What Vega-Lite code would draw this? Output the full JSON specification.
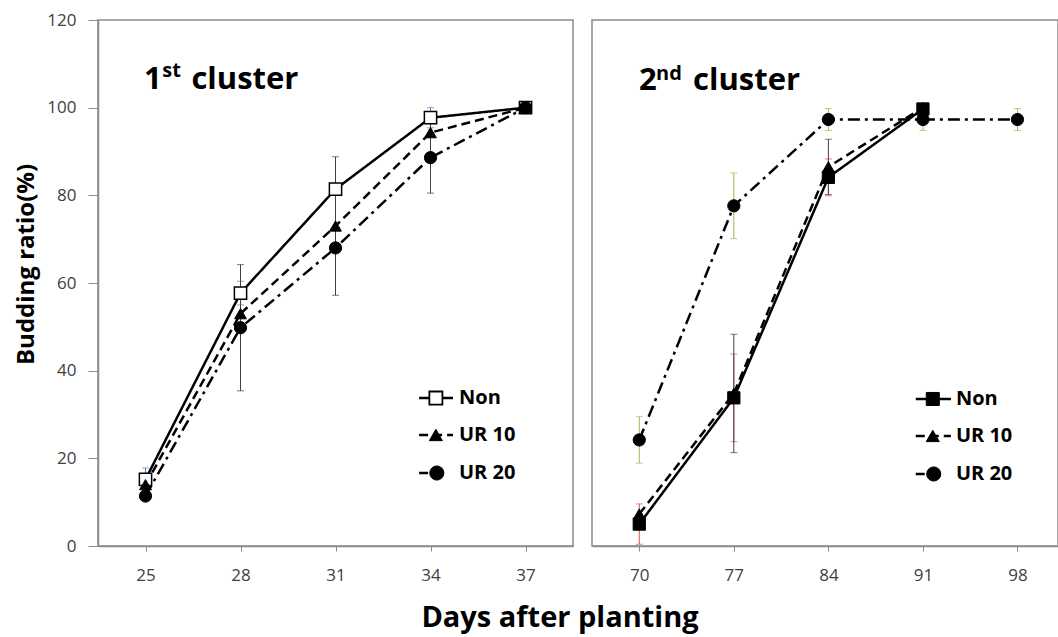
{
  "$schema": "https://vega.github.io/schema/vega-lite/v6.json",
  "padding": {"left": 13, "top": 10, "right": 0, "bottom": 6},
  "background": "white",
  "config": {
    "view": {"stroke": "#8a8a8a", "strokeWidth": 1.5},
    "font": "Open Sans",
    "axis": {"grid": false, "domainColor": "#8a8a8a", "tickColor": "#8a8a8a", "domainWidth": 1.5, "labelFont": "Open Sans", "labelFontSize": 17, "labelColor": "#404040"}
  },
  "title": {"text": "Days after planting", "orient": "bottom", "anchor": "middle", "font": "Open Sans", "fontSize": 29, "fontWeight": "bold", "color": "black", "offset": 20, "dx": 24},
  "datasets": {
    "c1": [
      {"day": 25, "series": "Non", "v": 15.2, "err": 2.6},
      {"day": 28, "series": "Non", "v": 57.7, "err": 2.7},
      {"day": 31, "series": "Non", "v": 81.4, "err": null},
      {"day": 34, "series": "Non", "v": 97.7, "err": 2.3},
      {"day": 37, "series": "Non", "v": 100, "err": null},
      {"day": 25, "series": "UR 10", "v": 14.0, "err": null},
      {"day": 28, "series": "UR 10", "v": 53.0, "err": null},
      {"day": 31, "series": "UR 10", "v": 73.0, "err": 15.8},
      {"day": 34, "series": "UR 10", "v": 94.3, "err": null},
      {"day": 37, "series": "UR 10", "v": 100, "err": null},
      {"day": 25, "series": "UR 20", "v": 11.4, "err": null},
      {"day": 28, "series": "UR 20", "v": 49.8, "err": 14.4},
      {"day": 31, "series": "UR 20", "v": 68.0, "err": null},
      {"day": 34, "series": "UR 20", "v": 88.6, "err": 8.1},
      {"day": 37, "series": "UR 20", "v": 100, "err": null}
    ],
    "c2": [
      {"day": 70, "series": "Non", "v": 5.0, "err": 4.6},
      {"day": 77, "series": "Non", "v": 33.8, "err": 10.0},
      {"day": 84, "series": "Non", "v": 84.1, "err": 4.2},
      {"day": 91, "series": "Non", "v": 99.7, "err": null},
      {"day": 70, "series": "UR 10", "v": 7.3, "err": null},
      {"day": 77, "series": "UR 10", "v": 34.8, "err": 13.5},
      {"day": 84, "series": "UR 10", "v": 86.5, "err": 6.3},
      {"day": 91, "series": "UR 10", "v": 100, "err": null},
      {"day": 70, "series": "UR 20", "v": 24.2, "err": 5.3},
      {"day": 77, "series": "UR 20", "v": 77.6, "err": 7.5},
      {"day": 84, "series": "UR 20", "v": 97.3, "err": 2.5},
      {"day": 91, "series": "UR 20", "v": 97.3, "err": 2.5},
      {"day": 98, "series": "UR 20", "v": 97.3, "err": 2.5}
    ]
  },
  "spacing": 17,
  "resolve": {"scale": {"color": "independent", "strokeDash": "independent"}},
  "hconcat": [
    {
      "width": 475,
      "height": 526,
      "data": {"name": "c1"},
      "encoding": {
        "x": {"field": "day", "type": "quantitative", "scale": {"domain": [23.5, 38.5], "nice": false, "zero": false}, "axis": {"values": [25, 28, 31, 34, 37], "title": null, "tickSize": 5, "labelPadding": 16}},
        "y": {"field": "v", "type": "quantitative", "scale": {"domain": [0, 120], "nice": false}, "axis": {"values": [0, 20, 40, 60, 80, 100, 120], "title": "Budding ratio(%)", "titleFont": "Open Sans", "titleFontSize": 24, "titleFontWeight": "bold", "titleColor": "black", "titleX": -72, "titleY": 244, "titleAngle": 270, "titleAlign": "center", "titleBaseline": "middle", "tickSize": 10, "labelPadding": 12}}
      },
      "layer": [
        {
          "transform": [{"filter": "datum.err > 0"}],
          "mark": {"type": "errorbar", "ticks": {"size": 7, "thickness": 1}, "thickness": 1},
          "encoding": {
            "yError": {"field": "err"},
            "color": {"field": "series", "type": "nominal", "scale": {"domain": ["Non", "UR 10", "UR 20"], "range": ["#4f81bd", "#404040", "#404040"]}, "legend": null}
          }
        },
        {
          "mark": {"type": "line", "color": "black", "strokeWidth": 2.5},
          "encoding": {
            "strokeDash": {"field": "series", "type": "nominal", "scale": {"domain": ["Non", "UR 10", "UR 20"], "range": [[1, 0], [9, 5], [12, 5, 3, 5]]}, "legend": null}
          }
        },
        {
          "transform": [{"filter": "datum.series === 'Non'"}],
          "mark": {"type": "point", "shape": "square", "filled": true, "fill": "white", "stroke": "black", "strokeWidth": 1.5, "size": 150, "opacity": 1}
        },
        {
          "transform": [{"filter": "datum.series === 'UR 10'"}],
          "mark": {"type": "point", "shape": "triangle-up", "filled": true, "fill": "black", "stroke": "black", "strokeWidth": 1, "size": 140, "opacity": 1}
        },
        {
          "transform": [{"filter": "datum.series === 'UR 20'"}],
          "mark": {"type": "point", "shape": "circle", "filled": true, "fill": "black", "stroke": "black", "strokeWidth": 1, "size": 150, "opacity": 1}
        },
        {
          "transform": [{"filter": "datum.day === 37 && datum.series === 'Non'"}],
          "mark": {"type": "rule", "color": "black", "strokeWidth": 2.5},
          "encoding": {"x": {"datum": 33.64}, "x2": {"datum": 34.71}, "y": {"datum": 33.76}}
        },
        {
          "transform": [{"filter": "datum.day === 37 && datum.series === 'Non'"}],
          "mark": {"type": "rule", "color": "black", "strokeWidth": 2.5, "strokeDash": [9, 5]},
          "encoding": {"x": {"datum": 33.64}, "x2": {"datum": 34.71}, "y": {"datum": 25.32}}
        },
        {
          "transform": [{"filter": "datum.day === 37 && datum.series === 'Non'"}],
          "mark": {"type": "rule", "color": "black", "strokeWidth": 2.5, "strokeDash": [9, 5]},
          "encoding": {"x": {"datum": 33.64}, "x2": {"datum": 34.4}, "y": {"datum": 16.65}}
        },
        {
          "transform": [{"filter": "datum.day === 37 && datum.series === 'Non'"}],
          "mark": {"type": "point", "shape": "square", "filled": true, "fill": "white", "stroke": "black", "strokeWidth": 1.8, "size": 170, "opacity": 1},
          "encoding": {"x": {"datum": 34.17}, "y": {"datum": 33.76}}
        },
        {
          "transform": [{"filter": "datum.day === 37 && datum.series === 'Non'"}],
          "mark": {"type": "point", "shape": "triangle-up", "filled": true, "fill": "black", "stroke": "black", "strokeWidth": 1, "size": 170, "opacity": 1},
          "encoding": {"x": {"datum": 34.17}, "y": {"datum": 25.32}}
        },
        {
          "transform": [{"filter": "datum.day === 37 && datum.series === 'Non'"}],
          "mark": {"type": "point", "shape": "circle", "filled": true, "fill": "black", "stroke": "black", "strokeWidth": 1, "size": 200, "opacity": 1},
          "encoding": {"x": {"datum": 34.2}, "y": {"datum": 16.65}}
        },
        {
          "transform": [{"filter": "datum.day === 37 && datum.series === 'Non'"}],
          "mark": {"type": "text", "text": "Non", "font": "Open Sans", "fontSize": 20, "fontWeight": "bold", "align": "left", "baseline": "middle", "color": "black"},
          "encoding": {"x": {"datum": 34.9}, "y": {"datum": 33.76}}
        },
        {
          "transform": [{"filter": "datum.day === 37 && datum.series === 'Non'"}],
          "mark": {"type": "text", "text": "UR 10", "font": "Open Sans", "fontSize": 20, "fontWeight": "bold", "align": "left", "baseline": "middle", "color": "black"},
          "encoding": {"x": {"datum": 34.9}, "y": {"datum": 25.32}}
        },
        {
          "transform": [{"filter": "datum.day === 37 && datum.series === 'Non'"}],
          "mark": {"type": "text", "text": "UR 20", "font": "Open Sans", "fontSize": 20, "fontWeight": "bold", "align": "left", "baseline": "middle", "color": "black"},
          "encoding": {"x": {"datum": 34.9}, "y": {"datum": 16.65}}
        },
        {
          "transform": [{"filter": "datum.day === 37 && datum.series === 'Non'"}],
          "mark": {"type": "text", "text": "1", "font": "Open Sans", "fontSize": 31, "fontWeight": "bold", "align": "left", "baseline": "alphabetic", "color": "black"},
          "encoding": {"x": {"datum": 24.95}, "y": {"datum": 104.3}}
        },
        {
          "transform": [{"filter": "datum.day === 37 && datum.series === 'Non'"}],
          "mark": {"type": "text", "text": "st", "font": "Open Sans", "fontSize": 20, "fontWeight": "bold", "align": "left", "baseline": "alphabetic", "color": "black"},
          "encoding": {"x": {"datum": 25.53}, "y": {"datum": 106.9}}
        },
        {
          "transform": [{"filter": "datum.day === 37 && datum.series === 'Non'"}],
          "mark": {"type": "text", "text": "cluster", "font": "Open Sans", "fontSize": 31, "fontWeight": "bold", "align": "left", "baseline": "alphabetic", "color": "black"},
          "encoding": {"x": {"datum": 26.45}, "y": {"datum": 104.3}}
        }
      ]
    },
    {
      "width": 466,
      "height": 526,
      "data": {"name": "c2"},
      "encoding": {
        "x": {"field": "day", "type": "quantitative", "scale": {"domain": [66.5, 101], "nice": false, "zero": false}, "axis": {"values": [70, 77, 84, 91, 98], "title": null, "tickSize": 5, "labelPadding": 16}},
        "y": {"field": "v", "type": "quantitative", "scale": {"domain": [0, 120], "nice": false}, "axis": null}
      },
      "layer": [
        {
          "transform": [{"filter": "datum.err > 0"}],
          "mark": {"type": "errorbar", "ticks": {"size": 7, "thickness": 1}, "thickness": 1},
          "encoding": {
            "yError": {"field": "err"},
            "color": {"field": "series", "type": "nominal", "scale": {"domain": ["Non", "UR 10", "UR 20"], "range": ["#e05050", "#404040", "#9bbb59"]}, "legend": null}
          }
        },
        {
          "mark": {"type": "line", "color": "black", "strokeWidth": 2.5},
          "encoding": {
            "strokeDash": {"field": "series", "type": "nominal", "scale": {"domain": ["Non", "UR 10", "UR 20"], "range": [[1, 0], [9, 5], [12, 5, 3, 5]]}, "legend": null}
          }
        },
        {
          "transform": [{"filter": "datum.series === 'Non'"}],
          "mark": {"type": "point", "shape": "square", "filled": true, "fill": "black", "stroke": "black", "strokeWidth": 1, "size": 150, "opacity": 1}
        },
        {
          "transform": [{"filter": "datum.series === 'UR 10'"}],
          "mark": {"type": "point", "shape": "triangle-up", "filled": true, "fill": "black", "stroke": "black", "strokeWidth": 1, "size": 140, "opacity": 1}
        },
        {
          "transform": [{"filter": "datum.series === 'UR 20'"}],
          "mark": {"type": "point", "shape": "circle", "filled": true, "fill": "black", "stroke": "black", "strokeWidth": 1, "size": 150, "opacity": 1}
        },
        {
          "transform": [{"filter": "datum.day === 98"}],
          "mark": {"type": "rule", "color": "black", "strokeWidth": 2.5},
          "encoding": {"x": {"datum": 90.47}, "x2": {"datum": 93.07}, "y": {"datum": 33.54}}
        },
        {
          "transform": [{"filter": "datum.day === 98"}],
          "mark": {"type": "rule", "color": "black", "strokeWidth": 2.5, "strokeDash": [9, 5]},
          "encoding": {"x": {"datum": 90.47}, "x2": {"datum": 93.07}, "y": {"datum": 25.1}}
        },
        {
          "transform": [{"filter": "datum.day === 98"}],
          "mark": {"type": "rule", "color": "black", "strokeWidth": 2.5, "strokeDash": [9, 5]},
          "encoding": {"x": {"datum": 90.47}, "x2": {"datum": 92.3}, "y": {"datum": 16.43}}
        },
        {
          "transform": [{"filter": "datum.day === 98"}],
          "mark": {"type": "point", "shape": "square", "filled": true, "fill": "black", "stroke": "black", "strokeWidth": 1, "size": 170, "opacity": 1},
          "encoding": {"x": {"datum": 91.73}, "y": {"datum": 33.54}}
        },
        {
          "transform": [{"filter": "datum.day === 98"}],
          "mark": {"type": "point", "shape": "triangle-up", "filled": true, "fill": "black", "stroke": "black", "strokeWidth": 1, "size": 170, "opacity": 1},
          "encoding": {"x": {"datum": 91.73}, "y": {"datum": 25.1}}
        },
        {
          "transform": [{"filter": "datum.day === 98"}],
          "mark": {"type": "point", "shape": "circle", "filled": true, "fill": "black", "stroke": "black", "strokeWidth": 1, "size": 200, "opacity": 1},
          "encoding": {"x": {"datum": 91.8}, "y": {"datum": 16.43}}
        },
        {
          "transform": [{"filter": "datum.day === 98"}],
          "mark": {"type": "text", "text": "Non", "font": "Open Sans", "fontSize": 20, "fontWeight": "bold", "align": "left", "baseline": "middle", "color": "black"},
          "encoding": {"x": {"datum": 93.44}, "y": {"datum": 33.54}}
        },
        {
          "transform": [{"filter": "datum.day === 98"}],
          "mark": {"type": "text", "text": "UR 10", "font": "Open Sans", "fontSize": 20, "fontWeight": "bold", "align": "left", "baseline": "middle", "color": "black"},
          "encoding": {"x": {"datum": 93.44}, "y": {"datum": 25.1}}
        },
        {
          "transform": [{"filter": "datum.day === 98"}],
          "mark": {"type": "text", "text": "UR 20", "font": "Open Sans", "fontSize": 20, "fontWeight": "bold", "align": "left", "baseline": "middle", "color": "black"},
          "encoding": {"x": {"datum": 93.44}, "y": {"datum": 16.43}}
        },
        {
          "transform": [{"filter": "datum.day === 98"}],
          "mark": {"type": "text", "text": "2", "font": "Open Sans", "fontSize": 31, "fontWeight": "bold", "align": "left", "baseline": "alphabetic", "color": "black"},
          "encoding": {"x": {"datum": 69.98}, "y": {"datum": 104.0}}
        },
        {
          "transform": [{"filter": "datum.day === 98"}],
          "mark": {"type": "text", "text": "nd", "font": "Open Sans", "fontSize": 20, "fontWeight": "bold", "align": "left", "baseline": "alphabetic", "color": "black"},
          "encoding": {"x": {"datum": 71.24}, "y": {"datum": 106.3}}
        },
        {
          "transform": [{"filter": "datum.day === 98"}],
          "mark": {"type": "text", "text": "cluster", "font": "Open Sans", "fontSize": 31, "fontWeight": "bold", "align": "left", "baseline": "alphabetic", "color": "black"},
          "encoding": {"x": {"datum": 73.98}, "y": {"datum": 104.0}}
        }
      ]
    }
  ]
}
